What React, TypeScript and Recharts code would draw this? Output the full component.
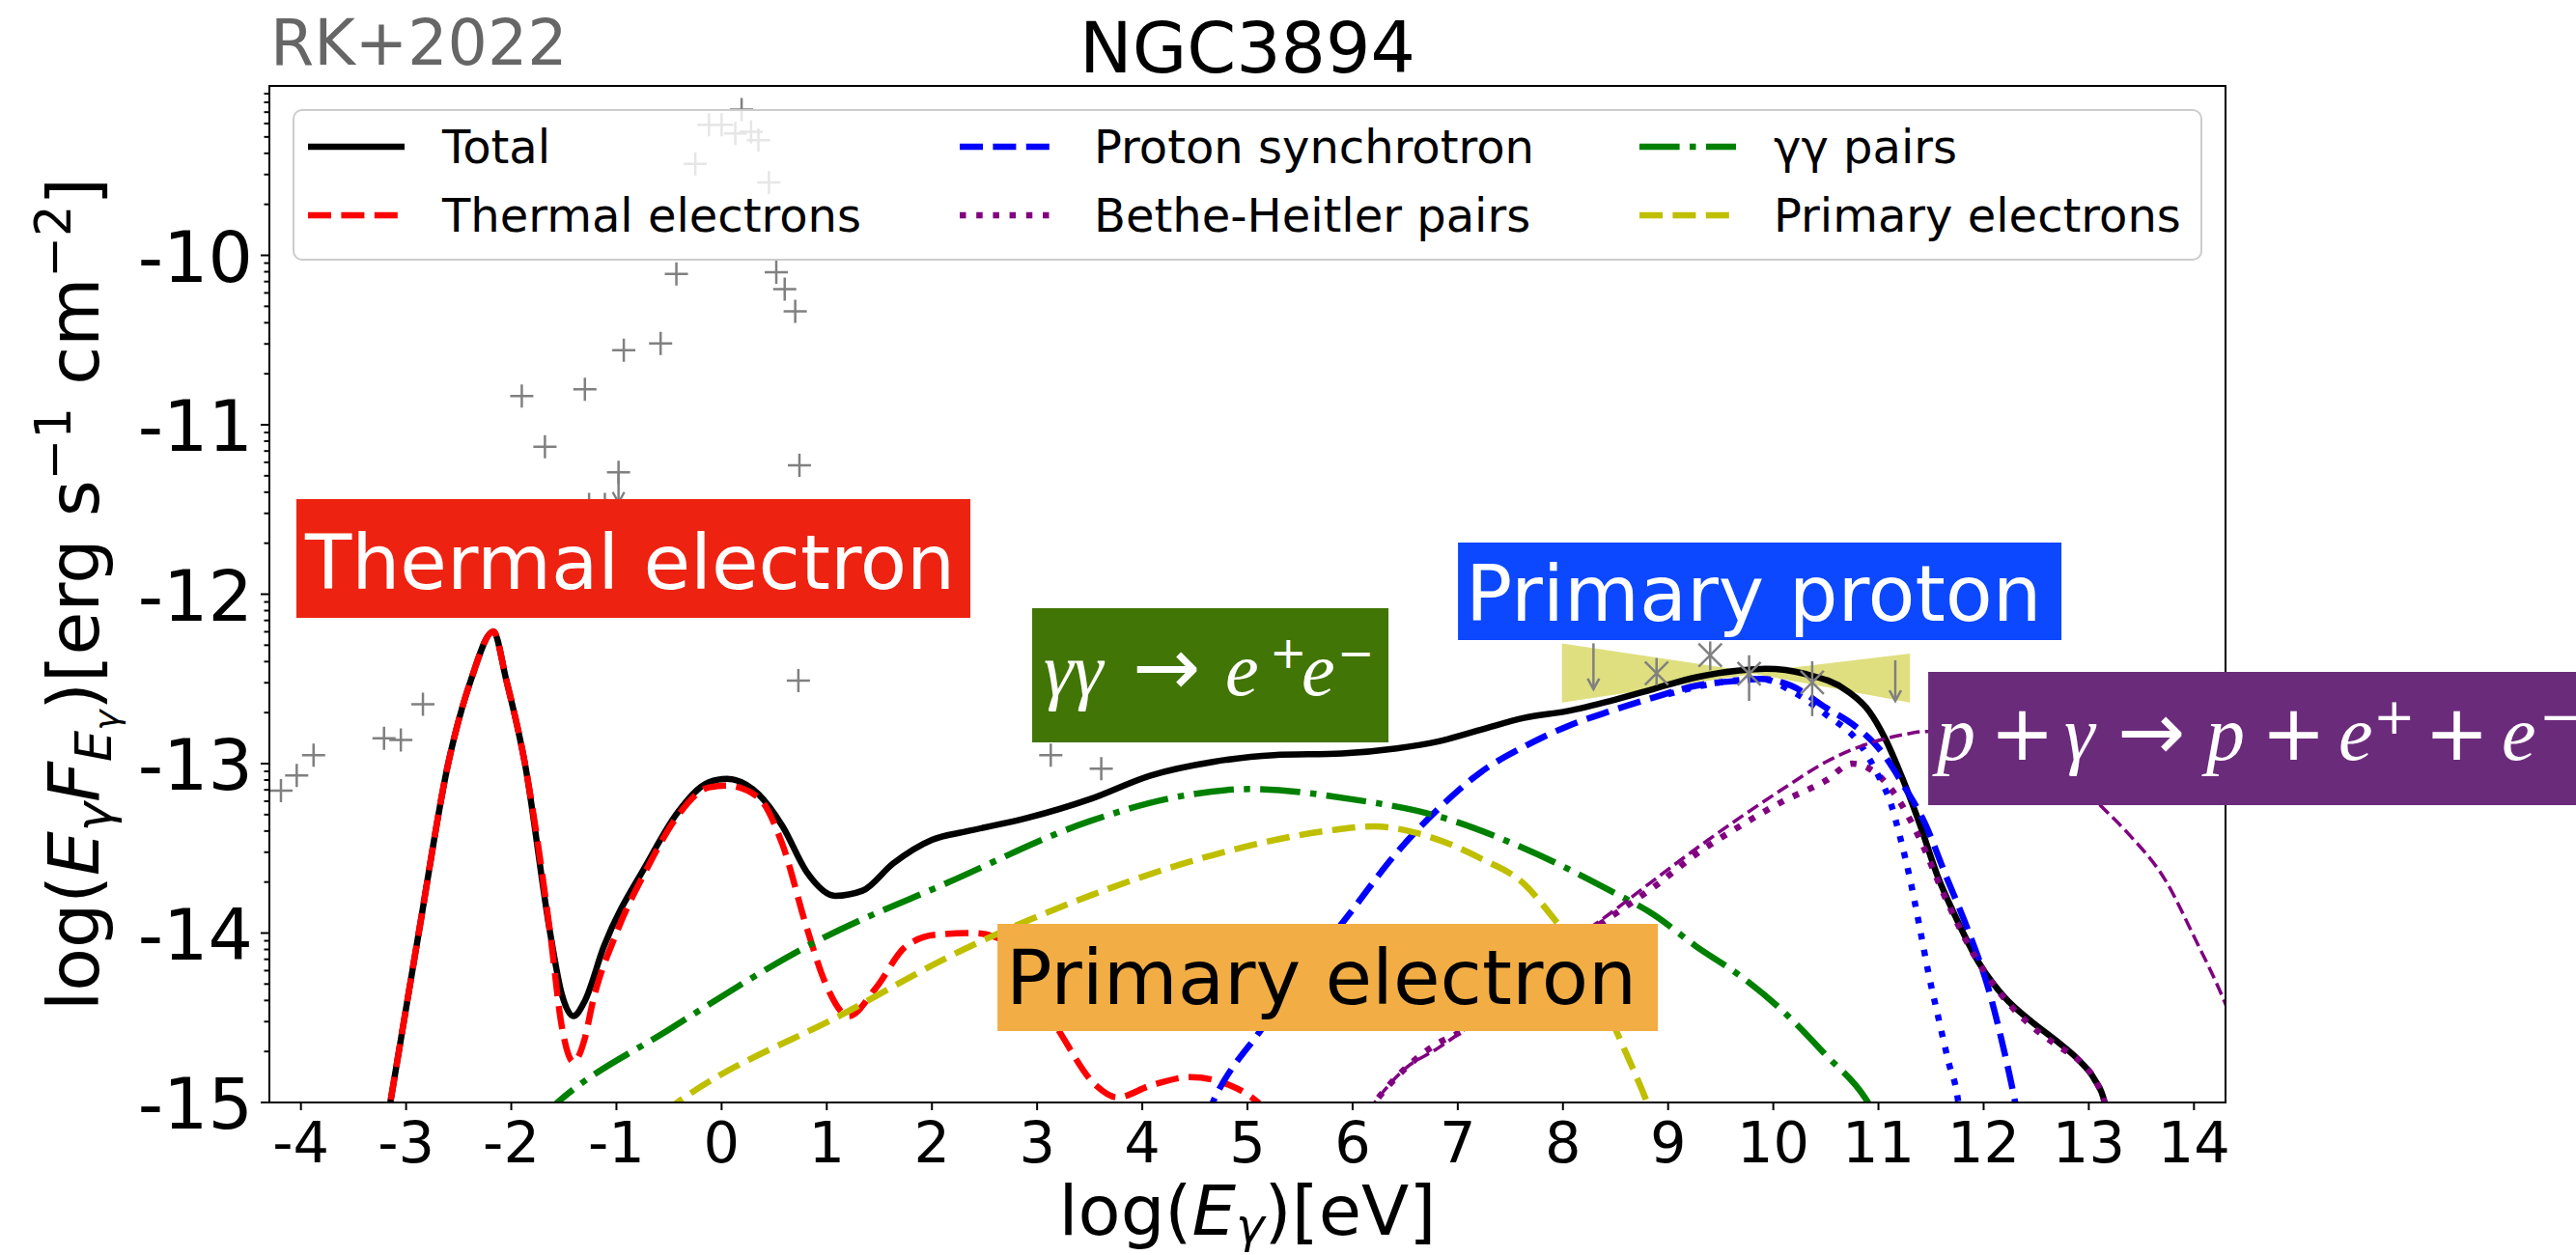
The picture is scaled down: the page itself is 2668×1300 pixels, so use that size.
import React from "react"
import {
  ComposedChart, Line, Area, Scatter, XAxis, YAxis, Legend,
  ReferenceArea, ErrorBar,
} from "recharts"

type P = [number, number]

// model components: [log(E_gamma / eV), log(E F_E / erg s^-1 cm^-2)]
const total: P[] = [
  [-3.25, -15.37], [-3.15, -15.0], [-2.88, -14.0], [-2.6, -13.0], [-2.38, -12.5],
  [-2.17, -12.22], [-2.05, -12.5], [-1.87, -13.0], [-1.63, -14.0], [-1.52, -14.36],
  [-1.41, -14.49], [-1.3, -14.4], [-1.12, -14.08], [-0.71, -13.59], [-0.42, -13.29],
  [-0.12, -13.11], [0.05, -13.09], [0.35, -13.18], [0.58, -13.37], [0.81, -13.64],
  [1.08, -13.78], [1.34, -13.75], [1.63, -13.59], [2.0, -13.45], [2.33, -13.4],
  [2.91, -13.32], [3.5, -13.21], [4.08, -13.07], [4.67, -12.99], [5.25, -12.95],
  [5.9, -12.94], [6.42, -12.91], [6.81, -12.87], [7.22, -12.8], [7.63, -12.73],
  [8.04, -12.69], [8.45, -12.63], [8.86, -12.56], [9.27, -12.49], [9.68, -12.45],
  [9.93, -12.44], [10.3, -12.47], [10.7, -12.57], [10.91, -12.69], [11.07, -12.86],
  [11.23, -13.09], [11.4, -13.37], [11.56, -13.66], [11.73, -13.9], [11.95, -14.17],
  [12.2, -14.38], [12.45, -14.52], [12.7, -14.64], [12.92, -14.76], [13.05, -14.86],
  [13.15, -15.0], [13.2, -15.2],
]
const thermal: P[] = [
  [-3.25, -15.37], [-3.15, -15.0], [-2.88, -14.0], [-2.6, -13.0], [-2.38, -12.5],
  [-2.17, -12.22], [-2.05, -12.5], [-1.87, -13.0], [-1.63, -14.0], [-1.52, -14.55],
  [-1.41, -14.76], [-1.3, -14.62], [-1.23, -14.42], [-1.0, -14.0], [-0.71, -13.62],
  [-0.42, -13.31], [-0.12, -13.14], [0.05, -13.13], [0.35, -13.2], [0.58, -13.48],
  [0.81, -13.97], [0.99, -14.3], [1.21, -14.49], [1.46, -14.33], [1.75, -14.08],
  [2.04, -14.01], [2.4, -14.0], [2.7, -14.05], [3.2, -14.57], [3.56, -14.9],
  [3.76, -14.97], [4.08, -14.9], [4.46, -14.85], [4.84, -14.9], [5.1, -15.0],
  [5.25, -15.1],
]
const protonSync: P[] = [
  [4.6, -15.1], [4.67, -15.0], [5.13, -14.57], [5.99, -13.87], [6.4, -13.54],
  [6.81, -13.27], [7.22, -13.05], [7.63, -12.9], [8.04, -12.78], [8.45, -12.69],
  [8.86, -12.61], [9.27, -12.54], [9.68, -12.51], [9.89, -12.5], [10.17, -12.54],
  [10.5, -12.67], [10.78, -12.78], [11.03, -12.93], [11.23, -13.12], [11.44, -13.35],
  [11.64, -13.66], [11.85, -13.98], [12.06, -14.36], [12.2, -14.71], [12.3, -15.0],
  [12.33, -15.1],
]
// blue dotted companion (not in legend)
const protonSyncCut: P[] = [
  [9.0, -12.59], [9.5, -12.52], [9.89, -12.5], [10.17, -12.57], [10.5, -12.71],
  [10.83, -12.89], [10.99, -13.06], [11.12, -13.24], [11.2, -13.42], [11.3, -13.68],
  [11.39, -13.96], [11.48, -14.25], [11.57, -14.5], [11.67, -14.77], [11.75, -14.96],
  [11.78, -15.1],
]
const bhPairs: P[] = [
  [6.15, -15.05], [6.21, -15.0], [6.5, -14.8], [6.76, -14.67], [7.06, -14.57],
  [7.7, -14.22], [8.37, -13.94], [8.86, -13.73], [9.3, -13.52], [9.68, -13.37],
  [10.1, -13.22], [10.5, -13.1], [10.75, -13.0], [10.94, -13.04], [11.12, -13.15],
  [11.39, -13.44], [11.62, -13.77], [11.9, -14.12], [12.15, -14.35], [12.42, -14.53],
  [12.69, -14.66], [12.92, -14.76], [13.08, -14.89], [13.15, -15.0], [13.18, -15.1],
]
// thin purple dashed (not in legend)
const bhPairsAlt: P[] = [
  [6.15, -15.05], [6.21, -15.0], [6.5, -14.8], [6.81, -14.68], [7.06, -14.57],
  [7.7, -14.2], [8.37, -13.92], [8.86, -13.69], [9.27, -13.5], [9.68, -13.32],
  [10.09, -13.15], [10.5, -12.99], [10.91, -12.88], [11.23, -12.83], [11.46, -12.81],
  [11.9, -12.82], [12.4, -12.9], [12.8, -13.05], [13.1, -13.24], [13.37, -13.41],
  [13.73, -13.69], [14.0, -14.02], [14.3, -14.42], [14.4, -14.58],
]
const ggPairs: P[] = [
  [-1.7, -15.08], [-1.56, -15.0], [-0.5, -14.57], [0.93, -14.04], [2.16, -13.7],
  [3.5, -13.34], [4.3, -13.2], [5.02, -13.15], [5.99, -13.21], [6.81, -13.31],
  [7.63, -13.5], [8.45, -13.75], [8.86, -13.89], [9.27, -14.08], [9.68, -14.25],
  [10.09, -14.46], [10.5, -14.72], [10.87, -14.97], [10.95, -15.05],
]
const primaryElectrons: P[] = [
  [-0.55, -15.06], [-0.42, -15.0], [1.21, -14.46], [2.16, -14.14], [3.5, -13.78],
  [4.67, -13.54], [5.84, -13.39], [6.2, -13.37], [6.61, -13.41], [7.22, -13.56],
  [7.63, -13.71], [7.92, -13.92], [8.2, -14.15], [8.53, -14.61], [8.8, -15.0],
  [8.85, -15.08],
]

// archival photometry (gray crosses)
const archival: P[] = [
  [-4.19, -13.16], [-4.04, -13.07], [-3.88, -12.95], [-3.21, -12.85], [-3.05, -12.86],
  [-2.84, -12.65], [-1.9, -10.83], [-1.68, -11.13], [-1.3, -10.79], [-0.93, -10.56],
  [-0.58, -10.52], [-0.43, -10.11], [-1.26, -11.47], [-1.11, -11.47], [0.52, -10.1],
  [0.6, -10.2], [0.7, -10.33], [0.74, -11.24], [0.73, -12.51], [-0.25, -9.46],
  [-0.12, -9.23], [0.0, -9.23], [0.13, -9.28], [0.28, -9.27], [0.35, -9.32],
  [0.45, -9.57], [0.19, -9.14], [3.13, -12.95], [3.61, -13.03],
]
// archival upper limit: x, y, arrow tip
const archivalUL = [[-0.98, -11.28, -11.46]]
// Fermi-LAT points: x, y, err down, err up
const latPoints = [
  [8.89, -12.466, 0.072, 0.089], [9.4, -12.36, 0.089, 0.081],
  [9.77, -12.47, 0.16, 0.11], [10.37, -12.52, 0.2, 0.124],
]
// Fermi-LAT upper limits: x, top, arrow tip
const latUL = [[8.29, -12.29, -12.56], [11.16, -12.39, -12.63]]
// LAT butterfly
const bowX = [7.99, 9.82, 11.3]
const bowLow = [-12.64, -12.47, -12.64]
const bowHigh = [-12.29, -12.46, -12.35]

const xTicks = [-4, -3, -2, -1, 0, 1, 2, 3, 4, 5, 6, 7, 8, 9, 10, 11, 12, 13, 14]
const yMajor = [-15, -14, -13, -12, -11, -10]
const minorSteps = [2, 3, 4, 5, 6, 7, 8, 9]
const yTicks = [
  ...yMajor,
  ...yMajor.flatMap((d) => minorSteps.map((k) => d + Math.log10(k))),
]

const X_DOMAIN: [number, number] = [-4.3, 14.3]
const Y_DOMAIN: [number, number] = [-15, -9]

const FONT = "DejaVu Sans, sans-serif"
const SERIF = "Liberation Serif, DejaVu Serif, serif"
const GRAY = "#808080"
const LW = 6.5
const DASH = "24 10.4"
const DASHDOT = "41.6 10.4 6.5 10.4"
const DOT = "6.5 10.7"

const series = [
  { name: "Total", pts: total, color: "#000000", dash: undefined, w: LW },
  { name: "Thermal electrons", pts: thermal, color: "#ff0000", dash: DASH, w: LW },
  { name: "Proton synchrotron", pts: protonSync, color: "#0000ff", dash: DASH, w: LW },
  { name: "Bethe-Heitler pairs", pts: bhPairs, color: "#800080", dash: DOT, w: LW },
  { name: "γγ pairs", pts: ggPairs, color: "#008000", dash: DASHDOT, w: LW },
  { name: "Primary electrons", pts: primaryElectrons, color: "#bfbf00", dash: DASH, w: LW },
]
const extras = [
  { name: "ps-cut", pts: protonSyncCut, color: "#0000ff", dash: DOT, w: LW },
  { name: "bh-alt", pts: bhPairsAlt, color: "#800080", dash: "13 5.6", w: 3.5 },
]

const toXY = (pts: P[]) => pts.map(([x, y]) => ({ x, y }))

// text boxes, in data coordinates
const boxes = [
  { id: "th", x1: -4.043, x2: 2.365, y1: -12.14, y2: -11.439, fill: "#ee2211" },
  { id: "gg", x1: 2.953, x2: 6.341, y1: -12.875, y2: -12.083, fill: "#417505" },
  { id: "pp", x1: 7.002, x2: 12.74, y1: -12.271, y2: -11.695, fill: "#0b48ff" },
  { id: "bh", x1: 11.473, x2: 17.74, y1: -13.245, y2: -12.459, fill: "#6b2b7b" },
  { id: "pe", x1: 2.623, x2: 8.903, y1: -14.578, y2: -13.946, fill: "#f2ad45" },
]

function BoxText({ viewBox, id }: any) {
  const { x, y } = viewBox
  if (id === "th")
    return <text x={x + 9} y={y + 93} fontSize={79} fontFamily={FONT} fill="#fff">Thermal electron</text>
  if (id === "pp")
    return <text x={x + 8} y={y + 81} fontSize={80} fontFamily={FONT} fill="#fff">Primary proton</text>
  if (id === "pe")
    return <text x={x + 9} y={y + 83} fontSize={79} fontFamily={FONT} fill="#000">Primary electron</text>
  const it = { fontStyle: "italic" as const, fontFamily: SERIF }
  const op = { fontFamily: FONT }
  if (id === "gg") {
    const b = y + 90
    const s = y + 62
    return (
      <text fontSize={78} fill="#fff">
        <tspan x={x + 12} y={b} {...it}>γγ</tspan>
        <tspan x={x + 104} y={b} {...op} fontSize={84}>→</tspan>
        <tspan x={x + 200} y={b} {...it}>e</tspan>
        <tspan x={x + 246} y={s} {...op} fontSize={46}>+</tspan>
        <tspan x={x + 279} y={b} {...it}>e</tspan>
        <tspan x={x + 316} y={s} {...op} fontSize={46}>−</tspan>
      </text>
    )
  }
  const b = y + 91
  const s = y + 64
  return (
    <text fontSize={80} fill="#fff">
      <tspan x={x + 9} y={b} {...it}>p</tspan>
      <tspan x={x + 64} y={b} {...op}>+</tspan>
      <tspan x={x + 141} y={b} {...it}>γ</tspan>
      <tspan x={x + 196} y={b} {...op} fontSize={84}>→</tspan>
      <tspan x={x + 288} y={b} {...it}>p</tspan>
      <tspan x={x + 345} y={b} {...op}>+</tspan>
      <tspan x={x + 425} y={b} {...it}>e</tspan>
      <tspan x={x + 461} y={s} {...op} fontSize={52}>+</tspan>
      <tspan x={x + 514} y={b} {...op}>+</tspan>
      <tspan x={x + 594} y={b} {...it}>e</tspan>
      <tspan x={x + 633} y={s} {...op} fontSize={52}>−</tspan>
    </text>
  )
}

function YTick({ x, y, payload }: any) {
  const v = payload.value as number
  const major = yMajor.includes(v)
  return (
    <g>
      <line x1={x - (major ? 9 : 5.5)} x2={x} y1={y} y2={y} stroke="#000" strokeWidth={2} />
      {major && (
        <text x={x - 17} y={y + 27} textAnchor="end" fontSize={73} fontFamily={FONT} fill="#000">{v}</text>
      )}
    </g>
  )
}

function XTick({ x, y, payload }: any) {
  return (
    <g>
      <line x1={x} x2={x} y1={y} y2={y + 8} stroke="#000" strokeWidth={2} />
      <text x={x} y={y + 62} textAnchor="middle" fontSize={59} fontFamily={FONT} fill="#000">{payload.value}</text>
    </g>
  )
}

function YLabel({ viewBox }: any) {
  const cx = viewBox.x + 102
  const cy = viewBox.y + viewBox.height / 2
  const it = { fontStyle: "italic" as const }
  return (
    <text x={cx} y={cy} transform={`rotate(-90 ${cx} ${cy})`} textAnchor="middle"
      fontSize={73} fontFamily={FONT} fill="#000" style={{ whiteSpace: "pre" }}>
      <tspan>log(</tspan>
      <tspan {...it}>E</tspan>
      <tspan {...it} fontSize={51} dy={13}>γ</tspan>
      <tspan {...it} dy={-13}>F</tspan>
      <tspan {...it} fontSize={51} dy={13}>E</tspan>
      <tspan {...it} fontSize={36} dy={8}>γ</tspan>
      <tspan dy={-21}>)[erg s</tspan>
      <tspan fontSize={51} dy={-29}>−1</tspan>
      <tspan dy={29}> cm</tspan>
      <tspan fontSize={51} dy={-29}>−2</tspan>
      <tspan dy={29}>]</tspan>
    </text>
  )
}

function XLabel({ viewBox }: any) {
  const cx = viewBox.x + viewBox.width / 2
  const by = viewBox.y + 137
  return (
    <text x={cx} y={by} textAnchor="middle" fontSize={72} fontFamily={FONT} fill="#000">
      <tspan>log(</tspan>
      <tspan fontStyle="italic">E</tspan>
      <tspan fontStyle="italic" fontSize={50} dy={8}>γ</tspan>
      <tspan dy={-8}>)[eV]</tspan>
    </text>
  )
}

function Heading({ viewBox }: any) {
  const { x, y, width } = viewBox
  return (
    <g fontFamily={FONT}>
      <text x={x + width / 2} y={y - 14} textAnchor="middle" fontSize={73} fill="#000">NGC3894</text>
      <text x={x + 1} y={y - 22} fontSize={65} fill="#666666">RK+2022</text>
    </g>
  )
}

const legendCols = [16, 691, 1395]
const legendRows = [39, 110]

function LegendBox() {
  return (
    <svg width={1978} height={157} style={{ display: "block" }}>
      <rect x={1} y={1} width={1976} height={155} rx={9} fill="rgba(255,255,255,0.8)" stroke="#cccccc" strokeWidth={2} />
      {series.map((s, i) => {
        const cx = legendCols[Math.floor(i / 2)]
        const cy = legendRows[i % 2]
        return (
          <g key={s.name}>
            <line x1={cx} x2={cx + 100} y1={cy} y2={cy} stroke={s.color} strokeWidth={s.w} strokeDasharray={s.dash} />
            <text x={cx + 139} y={cy + 17} fontSize={48} fontFamily={FONT} fill="#000">{s.name}</text>
          </g>
        )
      })}
    </svg>
  )
}

const Plus = (p: any) => (
  <path d={`M${p.cx - 12},${p.cy}H${p.cx + 12}M${p.cx},${p.cy - 12}V${p.cy + 12}`} stroke={GRAY} strokeWidth={2.5} fill="none" />
)
const Cross = (p: any) => (
  <path d={`M${p.cx - 12},${p.cy - 12}L${p.cx + 12},${p.cy + 12}M${p.cx - 12},${p.cy + 12}L${p.cx + 12},${p.cy - 12}`} stroke={GRAY} strokeWidth={2.5} fill="none" />
)
const Head = (p: any) => (
  <path d={`M${p.cx - 6},${p.cy - 11}L${p.cx},${p.cy}L${p.cx + 6},${p.cy - 11}`} stroke={GRAY} strokeWidth={2.5} fill="none" />
)
const Nothing = () => <g />

export default function App() {
  const bowtie = bowX.map((x, i) => ({ x, r: [bowLow[i], bowHigh[i]] }))
  const lat = latPoints.map(([x, y, lo, hi]) => ({ x, y, e: [lo, hi] }))
  const ulShaft = [...latUL, ...archivalUL].map(([x, top, tip]) => ({ x, y: top, e: [top - tip, 0] }))
  const ulHead = [...latUL, ...archivalUL].map(([x, , tip]) => ({ x, y: tip }))
  const ulPlus = archivalUL.map(([x, y]) => ({ x, y }))

  return (
    <div style={{ position: "absolute", left: 0, top: 0, width: 2668, height: 1300, background: "#fff" }}>
      <ComposedChart width={2668} height={1300} margin={{ top: 89, right: 363, bottom: 58, left: 0 }}>
        <XAxis dataKey="x" type="number" domain={X_DOMAIN} allowDataOverflow ticks={xTicks} interval={0}
          axisLine={false} tickLine={false} tickSize={0} tickMargin={0} tick={<XTick />} height={100}
          label={<XLabel />} />
        <YAxis dataKey="y" type="number" domain={Y_DOMAIN} allowDataOverflow ticks={yTicks} interval={0}
          axisLine={false} tickLine={false} tickSize={0} tickMargin={0} tick={<YTick />} width={279}
          label={<YLabel />} />
        <Area data={bowtie} dataKey="r" type="linear" stroke="none" fill="#dfdf80" fillOpacity={1}
          isAnimationActive={false} activeDot={false} />
        {[...series, ...extras].map((s) => (
          <Line key={s.name} data={toXY(s.pts)} dataKey="y" type="monotone" stroke={s.color}
            strokeWidth={s.w} strokeDasharray={s.dash} dot={false} activeDot={false} isAnimationActive={false} />
        ))}
        <Scatter data={toXY(archival)} shape={Plus} isAnimationActive={false} />
        <Scatter data={ulPlus} shape={Plus} isAnimationActive={false} />
        <Scatter data={lat} shape={Cross} isAnimationActive={false}>
          <ErrorBar dataKey="e" direction="y" width={0} stroke={GRAY} strokeWidth={2.5} isAnimationActive={false} />
        </Scatter>
        <Scatter data={ulShaft} shape={Nothing} isAnimationActive={false}>
          <ErrorBar dataKey="e" direction="y" width={0} stroke={GRAY} strokeWidth={2.5} isAnimationActive={false} />
        </Scatter>
        <Scatter data={ulHead} shape={Head} isAnimationActive={false} />
        <ReferenceArea x1={X_DOMAIN[0]} x2={X_DOMAIN[1]} y1={Y_DOMAIN[0]} y2={Y_DOMAIN[1]} fill="none"
          stroke="#000" strokeWidth={2} ifOverflow="visible" zIndex={700} label={<Heading />} />
        {boxes.map((b) => (
          <ReferenceArea key={b.id} x1={b.x1} x2={b.x2} y1={b.y1} y2={b.y2} fill={b.fill} fillOpacity={1}
            stroke="none" ifOverflow="visible" zIndex={800} label={<BoxText id={b.id} />} />
        ))}
        <Legend layout="horizontal" verticalAlign="middle" align="center" width={1978} height={157}
          wrapperStyle={{ left: 303, top: 113, width: 1978, height: 157 }} content={() => <LegendBox />} />
      </ComposedChart>
    </div>
  )
}
